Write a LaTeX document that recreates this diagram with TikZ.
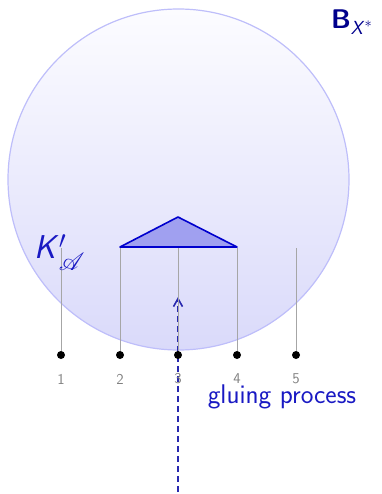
\documentclass[tikz,border=0pt]{standalone}
\usepackage{amsmath}
\usepackage{mathrsfs}
\usetikzlibrary{arrows.meta}
\definecolor{ringc}{RGB}{190,190,250}
\definecolor{topc}{RGB}{252,252,255}
\definecolor{midc}{RGB}{242,242,253}
\definecolor{botc}{RGB}{218,218,250}
\definecolor{trif}{RGB}{160,160,240}
\definecolor{tric}{RGB}{0,0,205}
\definecolor{txtb}{RGB}{25,25,195}
\definecolor{darkb}{RGB}{0,0,140}
\definecolor{arrc}{RGB}{40,40,175}
\tikzset{
  pt/.style={circle,fill=black,inner sep=0pt,minimum size=8pt},
  lab/.style={text=gray,inner sep=1pt,font=\sffamily\fontsize{15}{17}\selectfont},
  gl/.style={draw=gray!70,line width=0.9pt},
}
\begin{document}
\begin{tikzpicture}[x=1pt,y=-1pt]
\useasboundingbox (0,0) rectangle (381,494);
\begin{scope}
\clip (178.5,179.5) circle (170.5);
\shade[top color=topc,middle color=midc,bottom color=botc] (8,9) rectangle (349,350);
\end{scope}
\draw[ringc,line width=1.2pt] (178.5,179.5) circle (170.5);
% arrow
\coordinate (s) at (178,492);
\coordinate (e) at (178,297);
\draw[arrc,line width=1.5pt,dash pattern=on 6pt off 4pt,-{Straight Barb[length=8pt,width=9pt,line width=1.6pt]}] (s) -- (e);
% triangle
\coordinate (a) at (120,247);
\coordinate (b) at (178,217);
\coordinate (c) at (237,247);
\filldraw[fill=trif,draw=tric,line width=1.6pt,line join=round] (a) -- (b) -- (c) -- cycle;
% points
\foreach \i/\x in {1/61,2/120,3/178,4/237,5/296}{
  \coordinate (t\i) at (\x,248);
  \node[lab] (l\i) at (\x,379) {\i};
  \node[pt] (p\i) at (\x,355) {};
  \draw[gl] (t\i) -- (p\i);
}
\node[text=txtb,inner sep=0pt,font=\sffamily\fontsize{27}{30}\selectfont] (g) at (282,397) {gluing process};
\node[text=darkb,inner sep=0pt,anchor=base west,font=\sffamily\fontsize{27}{30}\selectfont] (B) at (331,29) {\textbf{B}$_{\textsf{\textit{X}}^{*}}$};
\node[text=txtb,inner sep=0pt,anchor=base west,font=\fontsize{33}{36}\selectfont] (K) at (34,258) {\textsf{\textit{K}}$'_{\mathscr{A}}$};
\end{tikzpicture}
\end{document}
